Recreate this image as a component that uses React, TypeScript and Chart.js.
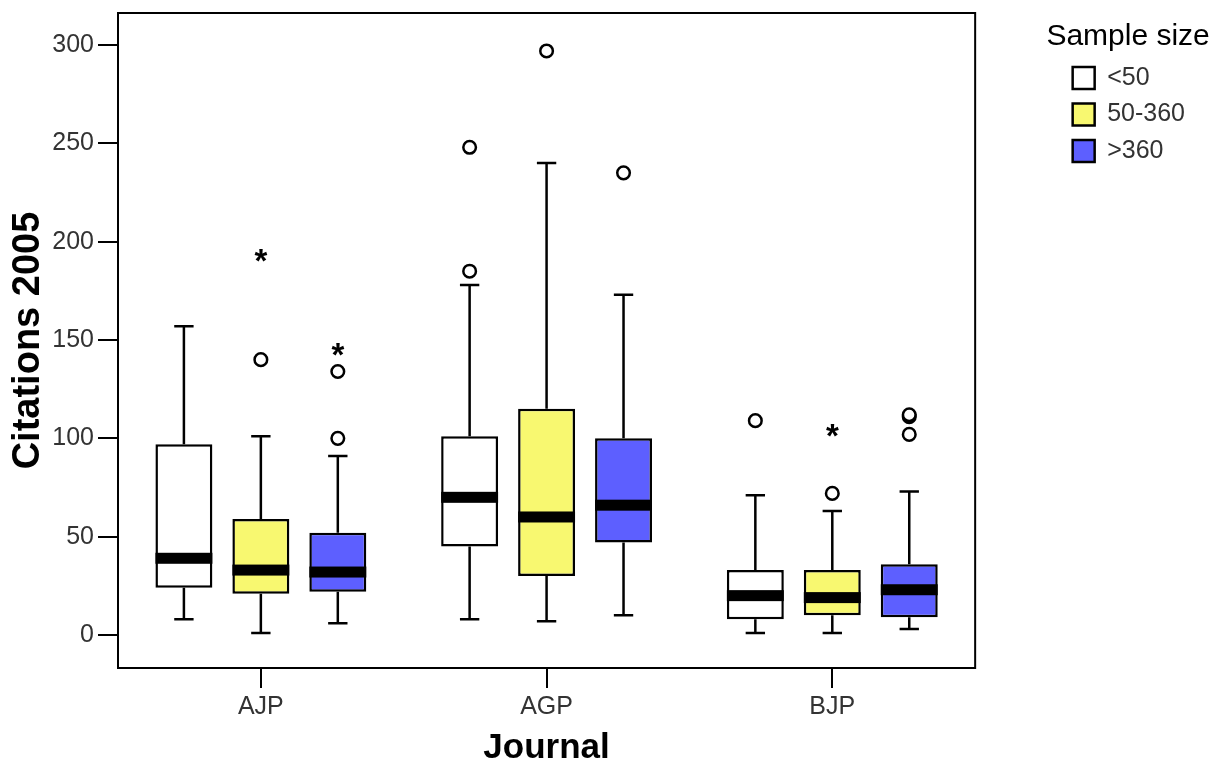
import React, { useEffect, useRef } from "react";
import { Chart, registerables } from "chart.js";

Chart.register(...registerables);

const journals = ["AJP", "AGP", "BJP"];
const sampleGroups = ["<50", "50-360", ">360"];
const groupColors = ["#FFFFFF", "#F8F870", "#5D5FFF"];
const yTicks = [0, 50, 100, 150, 200, 250, 300];
const yMin = -16.8;
const yMax = 316.3;

// Sample size < 50 (per journal: AJP, AGP, BJP)
const whiskerLowSmall = [8, 8, 1];
const q1Small = [24, 45, 8];
const medianSmall = [39, 70, 20];
const q3Small = [97, 101, 33];
const whiskerHighSmall = [157, 178, 71];
const outliersSmall = [[], [185, 248], [109]];
const extremesSmall = [[], [], []];

// Sample size 50-360
const whiskerLowMid = [1, 7, 1];
const q1Mid = [21, 30, 10];
const medianMid = [33, 60, 19];
const q3Mid = [59, 115, 33];
const whiskerHighMid = [101, 240, 63];
const outliersMid = [[140], [297], [72]];
const extremesMid = [[193], [], [104]];

// Sample size > 360
const whiskerLowLarge = [6, 10, 3];
const q1Large = [22, 47, 9];
const medianLarge = [32, 66, 23];
const q3Large = [52, 100, 36];
const whiskerHighLarge = [91, 173, 73];
const outliersLarge = [[100, 134], [235], [102, 111, 112]];
const extremesLarge = [[145], [], []];

const groupStats = [
  { lo: whiskerLowSmall, q1: q1Small, med: medianSmall, q3: q3Small, hi: whiskerHighSmall, out: outliersSmall, ext: extremesSmall },
  { lo: whiskerLowMid, q1: q1Mid, med: medianMid, q3: q3Mid, hi: whiskerHighMid, out: outliersMid, ext: extremesMid },
  { lo: whiskerLowLarge, q1: q1Large, med: medianLarge, q3: q3Large, hi: whiskerHighLarge, out: outliersLarge, ext: extremesLarge },
];

const FONT = "'Liberation Sans', Arial, sans-serif";

const boxPlotPlugin = {
  id: "boxPlotParts",
  afterDatasetsDraw(chart: any) {
    const ctx = chart.ctx;
    const ys = chart.scales.y;
    const py = (v: number) => ys.getPixelForValue(v);
    groupStats.forEach((s, di) => {
      const meta = chart.getDatasetMeta(di);
      meta.data.forEach((bar: any, j: number) => {
        const { x, width } = bar.getProps(["x", "width"], true);
        const cap = width * 0.17;
        ctx.save();
        ctx.strokeStyle = "#000";
        ctx.lineWidth = 2.5;
        ctx.lineCap = "butt";
        ctx.beginPath();
        ctx.moveTo(x, py(s.q3[j]));
        ctx.lineTo(x, py(s.hi[j]));
        ctx.moveTo(x, py(s.q1[j]));
        ctx.lineTo(x, py(s.lo[j]));
        ctx.moveTo(x - cap, py(s.hi[j]));
        ctx.lineTo(x + cap, py(s.hi[j]));
        ctx.moveTo(x - cap, py(s.lo[j]));
        ctx.lineTo(x + cap, py(s.lo[j]));
        ctx.stroke();
        // median band
        ctx.fillStyle = "#000";
        ctx.fillRect(x - width / 2, py(s.med[j]) - 5.5, width, 11);
        // outliers
        s.out[j].forEach((v: number) => {
          ctx.beginPath();
          ctx.arc(x, py(v), 6.3, 0, Math.PI * 2);
          ctx.fillStyle = "#fff";
          ctx.fill();
          ctx.lineWidth = 2.5;
          ctx.stroke();
        });
        // extremes
        ctx.font = `bold 33px ${FONT}`;
        ctx.textAlign = "center";
        ctx.textBaseline = "alphabetic";
        ctx.fillStyle = "#000";
        s.ext[j].forEach((v: number) => {
          const m = ctx.measureText("*");
          const asc = m.actualBoundingBoxAscent;
          const desc = m.actualBoundingBoxDescent;
          ctx.fillText("*", x, py(v) + (asc - desc) / 2);
        });
        ctx.restore();
      });
    });
  },
};

const framePlugin = {
  id: "plotFrame",
  afterLayout(chart: any) {
    const lg = chart.legend;
    if (lg && !lg.__noClip && typeof lg._draw === "function") {
      lg.__noClip = true;
      lg.draw = function () {
        if (this.options.display) this._draw();
      };
    }
  },
  afterDraw(chart: any) {
    const { left, top, right, bottom } = chart.chartArea;
    const ctx = chart.ctx;
    ctx.save();
    ctx.strokeStyle = "#000";
    ctx.lineWidth = 2;
    ctx.strokeRect(left, top, right - left, bottom - top);
    ctx.restore();
  },
};

const noPad = (s: any) => {
  s.paddingTop = 0;
  s.paddingBottom = 0;
  s.paddingLeft = 0;
  s.paddingRight = 0;
};

export default function App() {
  const canvasRef = useRef<HTMLCanvasElement | null>(null);

  useEffect(() => {
    if (!canvasRef.current) return;
    const chart = new Chart(canvasRef.current, {
      type: "bar",
      data: {
        labels: journals,
        datasets: sampleGroups.map((g, gi) => ({
          label: g,
          data: journals.map((_, j) => [groupStats[gi].q1[j], groupStats[gi].q3[j]]) as any,
          backgroundColor: groupColors[gi],
          borderColor: "#000",
          borderWidth: 2.5,
          borderSkipped: false,
          categoryPercentage: 0.808,
          barPercentage: 0.74,
        })),
      },
      options: {
        animation: false,
        responsive: true,
        maintainAspectRatio: false,
        layout: { padding: { top: 13, right: 21, bottom: 0, left: 0 } },
        plugins: {
          tooltip: { enabled: false },
          legend: {
            position: "right",
            align: "start",
            title: {
              display: true,
              text: "Sample size",
              color: "#000",
              position: "center",
              font: { family: FONT, size: 30, lineHeight: 1 },
              padding: { top: 9, bottom: 2 },
            },
            labels: {
              boxWidth: 22,
              boxHeight: 22,
              padding: 11.5,
              color: "#333",
              font: { family: FONT, size: 25 },
            },
          },
        },
        scales: {
          x: {
            type: "category",
            offset: true,
            grid: {
              offset: false,
              drawOnChartArea: false,
              drawTicks: true,
              tickLength: 20,
              color: "#000",
              lineWidth: 2,
            },
            border: { display: true, color: "#000", width: 2 },
            ticks: {
              color: "#333",
              padding: 4,
              maxRotation: 0,
              autoSkip: false,
              font: { family: FONT, size: 25 },
            },
            title: {
              display: true,
              text: "Journal",
              color: "#000",
              font: { family: FONT, size: 35, weight: "bold", lineHeight: 0.85 },
              padding: { top: 0, bottom: 0 },
            },
            afterFit: (s: any) => {
              s.height = 95;
              noPad(s);
            },
          },
          y: {
            type: "linear",
            min: yMin,
            max: yMax,
            grid: {
              drawOnChartArea: false,
              drawTicks: true,
              tickLength: 20,
              color: "#000",
              lineWidth: 2,
            },
            border: { display: true, color: "#000", width: 2 },
            ticks: {
              color: "#333",
              padding: 4,
              font: { family: FONT, size: 25 },
            },
            afterBuildTicks: (s: any) => {
              s.ticks = yTicks.map((v) => ({ value: v }));
            },
            title: {
              display: true,
              text: "Citations 2005",
              color: "#000",
              font: { family: FONT, size: 38, weight: "bold", lineHeight: 1 },
              padding: { top: 10, bottom: 0 },
            },
            afterFit: (s: any) => {
              s.width = 118;
              noPad(s);
            },
          },
          yR: {
            type: "linear",
            position: "right",
            display: true,
            grid: { display: false, drawTicks: false },
            border: { display: false },
            ticks: { display: false },
            afterFit: (s: any) => {
              s.width = 86;
              noPad(s);
            },
          },
        },
      } as any,
      plugins: [boxPlotPlugin, framePlugin],
    });
    return () => chart.destroy();
  }, []);

  return (
    <div style={{ position: "fixed", left: 0, top: 0, width: 1216, height: 763, background: "#fff" }}>
      <canvas ref={canvasRef} />
    </div>
  );
}
